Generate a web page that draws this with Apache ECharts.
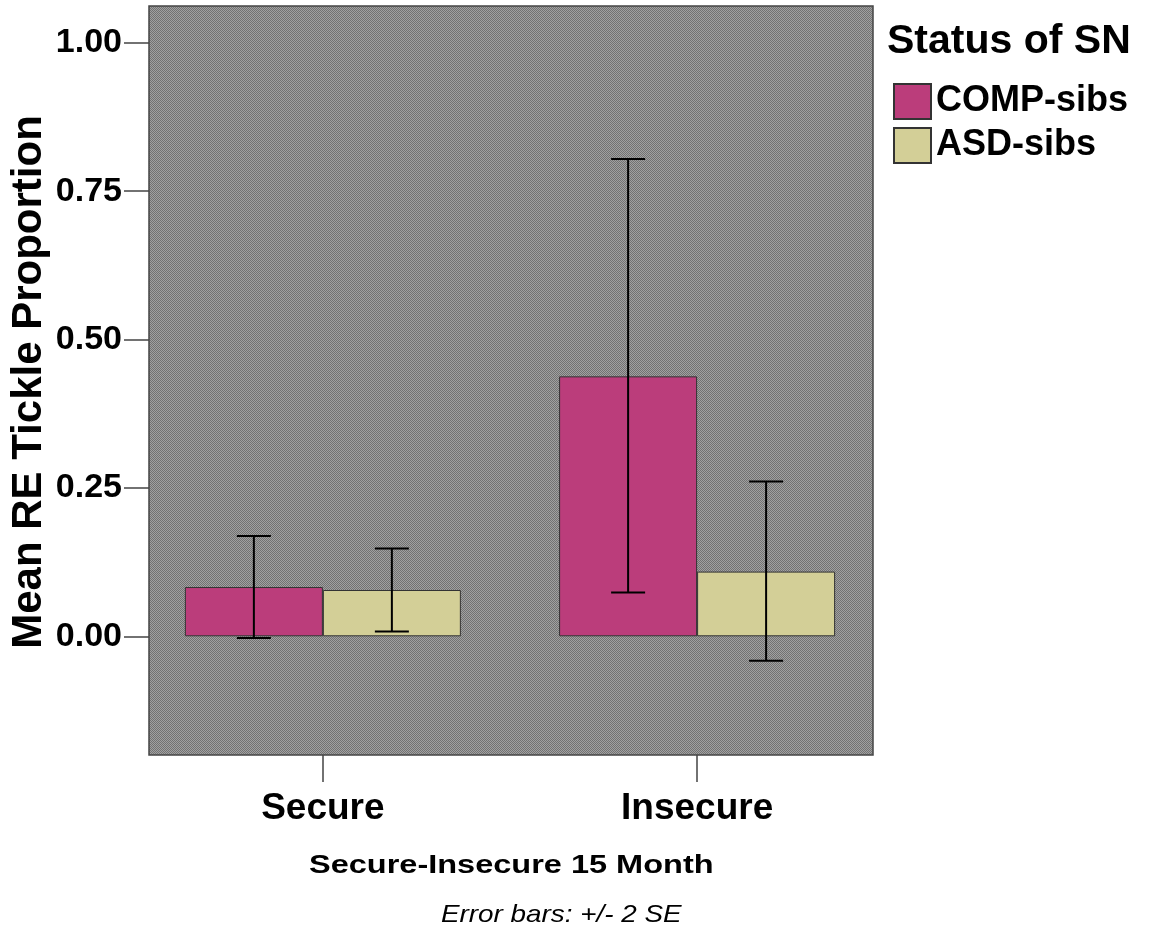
<!DOCTYPE html>
<html>
<head>
<meta charset="utf-8">
<script src="https://cdn.jsdelivr.net/npm/echarts@6/dist/echarts.min.js"></script>
<style>
html,body{margin:0;padding:0;background:#fff;}
#chart{width:1149px;height:939px;}
</style>
</head>
<body>
<div id="chart"></div>
<script>
// ---- data ----
const categories = ['Secure', 'Insecure'];
const seriesNames = ['COMP-sibs', 'ASD-sibs'];
const compMeans = [0.083, 0.438];
const compLow = [-0.003, 0.074];
const compHigh = [0.169, 0.804];
const asdMeans = [0.078, 0.109];
const asdLow = [0.008, -0.041];
const asdHigh = [0.148, 0.261];
const yTicks = [0, 0.25, 0.5, 0.75, 1.0];

// ---- styles ----
const FONT = 'Liberation Sans, Arial, sans-serif';
const COLORS = ['#bb3d7b', '#d3cf97'];
const BAR_W = 138;

// checker pattern for plot background
const pc = document.createElement('canvas');
pc.width = 2; pc.height = 2;
const pctx = pc.getContext('2d');
pctx.fillStyle = '#a1a1a1'; pctx.fillRect(0, 0, 2, 2);
pctx.fillStyle = '#727272'; pctx.fillRect(0, 0, 1, 1); pctx.fillRect(1, 1, 1, 1);

const xPos = categories.map((c, i) => i + 1);

function errData(low, high, side) {
  return xPos.map((x, i) => [x, low[i], high[i], side]);
}

function renderErr(params, api) {
  const x = api.value(0), lo = api.value(1), hi = api.value(2), side = api.value(3);
  const pLo = api.coord([x, lo]);
  const pHi = api.coord([x, hi]);
  const cx = pLo[0] + side * BAR_W / 2;
  const cap = 17;
  const st = { stroke: '#000', lineWidth: 2 };
  return {
    type: 'group',
    children: [
      { type: 'line', shape: { x1: cx, y1: pHi[1], x2: cx, y2: pLo[1] }, style: st },
      { type: 'line', shape: { x1: cx - cap, y1: pHi[1], x2: cx + cap, y2: pHi[1] }, style: st },
      { type: 'line', shape: { x1: cx - cap, y1: pLo[1], x2: cx + cap, y2: pLo[1] }, style: st }
    ]
  };
}

const chart = echarts.init(document.getElementById('chart'), null, { renderer: 'canvas' });
chart.setOption({
  backgroundColor: '#ffffff',
  animation: false,
  title: {
    text: 'Status of SN',
    left: 887, top: 21, padding: 0,
    textStyle: { fontFamily: FONT, fontWeight: 'bold', fontSize: 41, color: '#000' }
  },
  legend: {
    data: seriesNames,
    orient: 'vertical',
    left: 893, top: 83,
    padding: 0,
    itemWidth: 37, itemHeight: 35, itemGap: 7,
    icon: 'rect',
    textStyle: { fontFamily: FONT, fontWeight: 'bold', fontSize: 36, color: '#000' }
  },
  grid: {
    left: 149, top: 6, width: 724, height: 749,
    outerBoundsMode: 'none',
    containLabel: false,
    show: true,
    backgroundColor: { image: pc, repeat: 'repeat' },
    borderColor: '#444', borderWidth: 1.5
  },
  xAxis: {
    type: 'value',
    min: 0.5354, max: 2.47,
    splitLine: { show: false },
    axisLine: { show: false, onZero: false },
    axisTick: { show: true, customValues: xPos, length: 27, lineStyle: { color: '#444', width: 1.5 } },
    axisLabel: {
      customValues: xPos,
      formatter: v => categories[Math.round(v) - 1] || '',
      margin: 35,
      fontFamily: FONT, fontWeight: 'bold', fontSize: 37, color: '#000'
    }
  },
  yAxis: {
    type: 'value',
    min: -0.2, max: 1.062,
    splitLine: { show: false },
    axisLine: { show: false, onZero: false },
    axisTick: { show: true, customValues: yTicks, length: 25, lineStyle: { color: '#444', width: 1.5 } },
    axisLabel: {
      customValues: yTicks,
      formatter: v => v.toFixed(2),
      margin: 27,
      fontFamily: FONT, fontWeight: 'bold', fontSize: 34, color: '#000'
    }
  },
  graphic: [
    {
      type: 'text', x: 29, y: 382, rotation: Math.PI / 2,
      style: { text: 'Mean RE Tickle Proportion', fontFamily: FONT, fontWeight: 'bold', fontSize: 42, fill: '#000',
               align: 'center', verticalAlign: 'middle' }
    },
    {
      type: 'text', left: 309, top: 853, scaleX: 1.25,
      style: { text: 'Secure-Insecure 15 Month', fontFamily: FONT, fontWeight: 'bold', fontSize: 26, fill: '#000' }
    },
    {
      type: 'text', left: 441, top: 903, scaleX: 1.16,
      style: { text: 'Error bars: +/- 2 SE', fontFamily: FONT, fontStyle: 'italic', fontSize: 24, fill: '#000' }
    }
  ],
  series: [
    {
      name: seriesNames[0], type: 'bar', barWidth: BAR_W, barGap: '0%',
      itemStyle: { color: COLORS[0], borderColor: '#333', borderWidth: 1 },
      data: xPos.map((x, i) => [x, compMeans[i]])
    },
    {
      name: seriesNames[1], type: 'bar', barWidth: BAR_W, barGap: '0%',
      itemStyle: { color: COLORS[1], borderColor: '#333', borderWidth: 1 },
      data: xPos.map((x, i) => [x, asdMeans[i]])
    },
    {
      name: 'COMP-err', type: 'custom', renderItem: renderErr, z: 5,
      data: errData(compLow, compHigh, -1)
    },
    {
      name: 'ASD-err', type: 'custom', renderItem: renderErr, z: 5,
      data: errData(asdLow, asdHigh, 1)
    }
  ]
});
</script>
</body>
</html>
